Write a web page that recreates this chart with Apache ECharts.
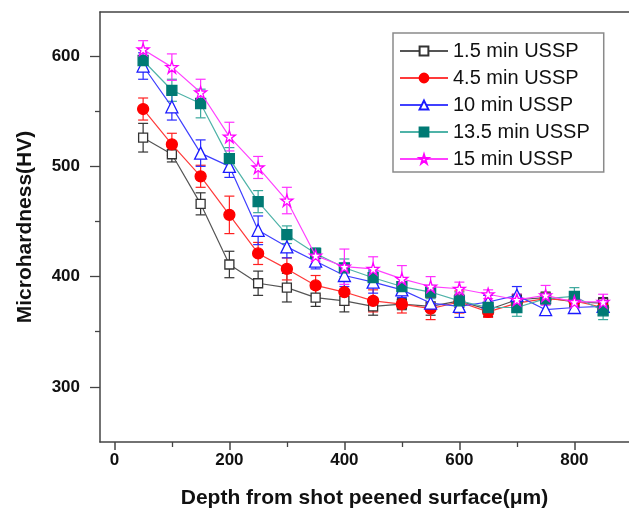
<!DOCTYPE html>
<html>
<head>
<meta charset="utf-8">
<script src="https://cdn.jsdelivr.net/npm/echarts@6/dist/echarts.min.js"></script>
<style>
html,body{margin:0;padding:0;background:#fff;}
#chart{width:629px;height:514px;}
</style>
</head>
<body>
<div id="chart"></div>
<script>
// ---- data ----
var depths = [50,100,150,200,250,300,350,400,450,500,550,600,650,700,750,800,850];
var seriesNames = ['1.5 min USSP','4.5 min USSP','10 min USSP','13.5 min USSP','15 min USSP'];
var hv_1_5  = [526,511,466,411,394,390,381,378,373,375,373,378,370,379,381,377,376];
var hv_4_5  = [552,520,491,456,421,407,392,386,378,375,371,377,368,376,380,378,372];
var hv_10   = [591,554,512,500,442,427,414,401,395,388,376,373,377,383,370,372,373];
var hv_13_5 = [596,569,557,507,468,438,421,408,399,391,386,378,372,372,380,382,369];
var hv_15   = [606,590,567,527,499,469,419,409,407,398,391,389,384,379,383,377,377];
var err_1_5  = [13,7,10,12,11,13,8,10,8,5,8,6,6,5,5,5,5];
var err_4_5  = [10,10,10,17,10,10,9,12,10,8,10,10,5,6,5,5,5];
var err_10   = [12,12,12,10,13,10,7,10,10,7,7,10,6,8,5,5,5];
var err_13_5 = [10,10,13,10,10,8,5,8,7,8,6,8,5,8,5,8,8];
var err_15   = [8,12,12,13,10,12,5,16,11,12,9,6,4,5,9,6,7];
var xLabelTicks = [0,200,400,600,800];
var xMinorTicks = [100,300,500,700];
var yLabelTicks = [300,400,500,600];
var yMinorTicks = [350,450,550];

var values = [hv_1_5, hv_4_5, hv_10, hv_13_5, hv_15];
var errors = [err_1_5, err_4_5, err_10, err_13_5, err_15];

var starPath = 'path://M50,2 L61,36 L97,36 L68,57 L79,92 L50,70 L21,92 L32,57 L3,36 L39,36 Z';
var styles = [
  {symbol:'rect', size:9, fill:'#ffffff', border:'#333333', line:'#555555', err:'#333333'},
  {symbol:'circle', size:11, fill:'#ff0000', border:'#ff0000', line:'#ff3a3a', err:'#ff2020'},
  {symbol:'triangle', size:12, fill:'#ffffff', border:'#1a1aff', line:'#4040ff', err:'#2a2aff'},
  {symbol:'rect', size:10, fill:'#007a74', border:'#007a74', line:'#4fb3a8', err:'#3aa89c'},
  {symbol:starPath, size:12, fill:'#ffffff', border:'#ff00ff', line:'#ff40ff', err:'#ff30ff'}
];

var FONT = '"Liberation Sans", Arial, sans-serif';

function errRender(color){
  return function(params, api){
    var x = api.value(0), lo = api.value(1), hi = api.value(2);
    var pt = api.coord([x, hi]);
    var pb = api.coord([x, lo]);
    var cw = 5;
    var st = {stroke: color, lineWidth: 1.2};
    return {type:'group', children:[
      {type:'line', shape:{x1:pt[0],y1:pt[1],x2:pb[0],y2:pb[1]}, style:st},
      {type:'line', shape:{x1:pt[0]-cw,y1:pt[1],x2:pt[0]+cw,y2:pt[1]}, style:st},
      {type:'line', shape:{x1:pb[0]-cw,y1:pb[1],x2:pb[0]+cw,y2:pb[1]}, style:st}
    ]};
  };
}

var series = [];
for (var i = 0; i < values.length; i++) {
  var s = styles[i];
  var errData = depths.map(function(d, k){ return [d, values[i][k]-errors[i][k], values[i][k]+errors[i][k]]; });
  series.push({
    type:'custom', renderItem: errRender(s.err), data: errData, z: 2+i,
    encode:{x:0, y:[1,2]}, silent:true, tooltip:{show:false}
  });
}
for (var j = 0; j < values.length; j++) {
  var st = styles[j];
  series.push({
    type:'line', name: seriesNames[j],
    data: depths.map(function(d,k){ return [d, values[j][k]]; }),
    symbol: st.symbol, symbolSize: st.size, showAllSymbol:true,
    lineStyle:{color: st.line, width:1.2},
    itemStyle:{color: st.fill, borderColor: st.border, borderWidth:1.3},
    z: 10+j
  });
}

var X_MIN = -25, X_MAX = 895;
var chart = echarts.init(document.getElementById('chart'), null, {renderer:'canvas'});
chart.setOption({
  animation:false,
  backgroundColor:'#ffffff',
  grid:{left:100, right:0, top:12, bottom:69, show:false},
  legend:{
    orient:'vertical', left:393, top:33,
    data: seriesNames,
    itemWidth:48, itemHeight:11, itemGap:7,
    padding:[8,14,3,6],
    borderColor:'#8a8a8a', borderWidth:1.5, backgroundColor:'#fff',
    textStyle:{fontFamily:FONT, fontSize:20, color:'#111'}
  },
  xAxis:[{
    type:'value', min:X_MIN, max:X_MAX,
    name:'Depth from shot peened surface(\u03bcm)', nameLocation:'middle', nameGap:46,
    nameTextStyle:{fontFamily:FONT, fontSize:21, fontWeight:'bold', color:'#111'},
    axisLine:{show:true, onZero:false, lineStyle:{color:'#444', width:1.5}},
    axisTick:{show:true, inside:false, length:8, customValues:xLabelTicks, lineStyle:{color:'#444', width:1.5}},
    axisLabel:{customValues:xLabelTicks, margin:10, fontFamily:FONT, fontSize:17, fontWeight:'bold', color:'#111'},
    splitLine:{show:false}
  },{
    type:'value', min:X_MIN, max:X_MAX, position:'bottom',
    axisLine:{show:false, onZero:false},
    axisTick:{show:true, length:5, customValues:xMinorTicks, lineStyle:{color:'#444', width:1.3}},
    axisLabel:{show:false},
    splitLine:{show:false}
  },{
    type:'value', min:X_MIN, max:X_MAX, position:'top',
    axisLine:{show:true, onZero:false, lineStyle:{color:'#444', width:1.5}},
    axisTick:{show:false},
    axisLabel:{show:false},
    splitLine:{show:false}
  }],
  yAxis:[{
    type:'value', min:250, max:640,
    name:'Microhardness(HV)', nameLocation:'middle', nameGap:64,
    nameTextStyle:{fontFamily:FONT, fontSize:21, fontWeight:'bold', color:'#111'},
    axisLine:{show:true, onZero:false, lineStyle:{color:'#444', width:1.5}},
    axisTick:{show:true, length:10, customValues:yLabelTicks, lineStyle:{color:'#444', width:1.3}},
    axisLabel:{customValues:yLabelTicks, margin:20, fontFamily:FONT, fontSize:17, fontWeight:'bold', color:'#111'},
    splitLine:{show:false}
  },{
    type:'value', min:250, max:640, position:'left',
    axisLine:{show:false, onZero:false},
    axisTick:{show:true, length:5, customValues:yMinorTicks, lineStyle:{color:'#444', width:1.3}},
    axisLabel:{show:false},
    splitLine:{show:false}
  }],
  series: series
});
</script>
</body>
</html>
